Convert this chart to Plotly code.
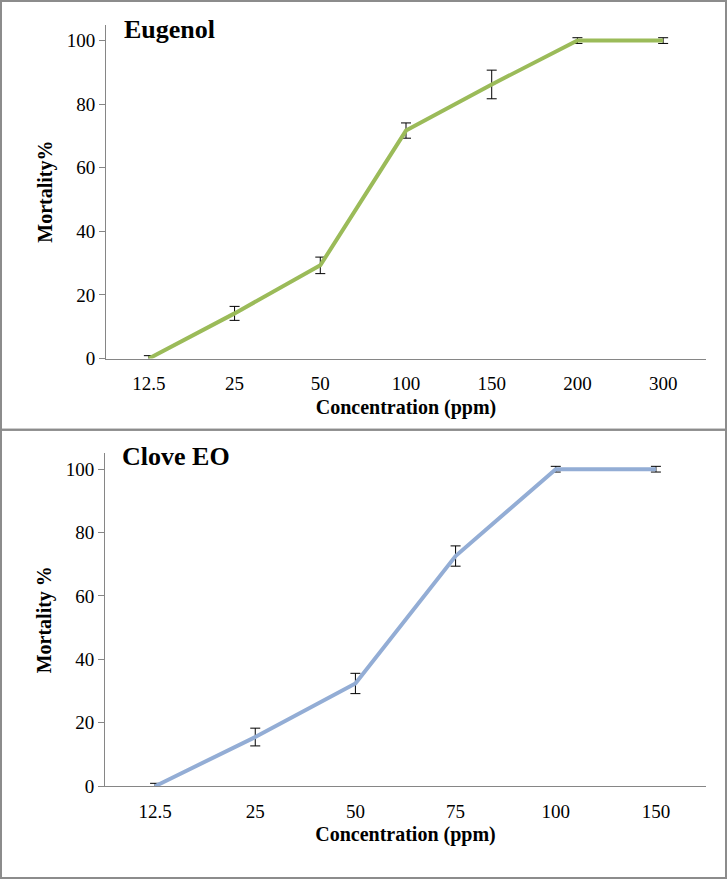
import plotly.graph_objects as go

# Data
eug_conc = ["12.5", "25", "50", "100", "150", "200", "300"]
eug_mort = [0, 14.2, 29.3, 71.7, 86.2, 100, 100]
eug_err = [0.9, 2.2, 2.6, 2.4, 4.5, 0.9, 0.9]

clove_conc = ["12.5", "25", "50", "75", "100", "150"]
clove_mort = [0, 15.5, 32.4, 72.6, 100, 100]
clove_err = [0.9, 2.8, 3.2, 3.2, 0.9, 0.9]

W, H = 728, 891
def fx(px): return px / W
def fy(py): return 1 - py / H

FONT = "Liberation Serif, Times New Roman, serif"
AX = "#868686"

fig = go.Figure()
fig.add_trace(go.Scatter(
    x=eug_conc, y=eug_mort, mode="lines",
    line=dict(color="#9BBB59", width=4),
    error_y=dict(type="data", array=eug_err, color="black", thickness=1, width=5),
    xaxis="x", yaxis="y", showlegend=False))
fig.add_trace(go.Scatter(
    x=clove_conc, y=clove_mort, mode="lines",
    line=dict(color="#93ADD5", width=4),
    error_y=dict(type="data", array=clove_err, color="black", thickness=1, width=5),
    xaxis="x2", yaxis="y2", showlegend=False))

common_x = dict(type="category", showline=True, linecolor=AX, linewidth=1,
                showgrid=False, zeroline=False, ticks="",
                tickfont=dict(family=FONT, size=19, color="black"),
                ticklabelstandoff=8)
common_y = dict(range=[0, 105], showline=True, linecolor=AX, linewidth=1,
                showgrid=False, zeroline=False, ticks="outside", ticklen=6,
                tickcolor=AX, tickvals=[0, 20, 40, 60, 80, 100],
                tickfont=dict(family=FONT, size=19, color="black"))
title_font = dict(family=FONT, size=20, color="black")

fig.update_layout(
    width=W, height=H,
    margin=dict(l=0, r=0, t=0, b=0),
    paper_bgcolor="white", plot_bgcolor="white",
    xaxis=dict(common_x, domain=[fx(106), fx(706)], anchor="y", range=[-0.5, 6.5],
               title=dict(text="<b>Concentration (ppm)</b>", font=title_font, standoff=6)),
    yaxis=dict(common_y, domain=[fy(363), fy(25)], anchor="x",
               title=dict(text="<b>Mortality%</b>", font=title_font, standoff=8)),
    xaxis2=dict(common_x, domain=[fx(105), fx(706)], anchor="y2", range=[-0.5, 5.5],
                title=dict(text="<b>Concentration (ppm)</b>", font=title_font, standoff=6)),
    yaxis2=dict(common_y, domain=[fy(796), fy(459)], anchor="x2",
                title=dict(text="<b>Mortality %</b>", font=title_font, standoff=8)),
    annotations=[
        dict(text="<b>Eugenol</b>", x=fx(122), y=fy(30), xref="paper", yref="paper",
             xanchor="left", yanchor="middle", showarrow=False,
             font=dict(family=FONT, size=26, color="black")),
        dict(text="<b>Clove EO</b>", x=fx(120), y=fy(462), xref="paper", yref="paper",
             xanchor="left", yanchor="middle", showarrow=False,
             font=dict(family=FONT, size=26, color="black")),
    ],
    shapes=[
        dict(type="rect", xref="paper", yref="paper", x0=fx(1), x1=fx(726),
             y0=fy(435), y1=fy(1), line=dict(color="#8C8C8C", width=2)),
        dict(type="rect", xref="paper", yref="paper", x0=fx(1), x1=fx(726),
             y0=fy(889), y1=fy(435), line=dict(color="#8C8C8C", width=2)),
    ],
)

fig.write_html("out.html", config={"displayModeBar": False})
with open("out.html", "r", encoding="utf-8") as f:
    html = f.read()
html = html.replace("<head>", "<head><style>html,body{margin:0;padding:0;overflow:hidden;}</style>", 1)
with open("out.html", "w", encoding="utf-8") as f:
    f.write(html)
